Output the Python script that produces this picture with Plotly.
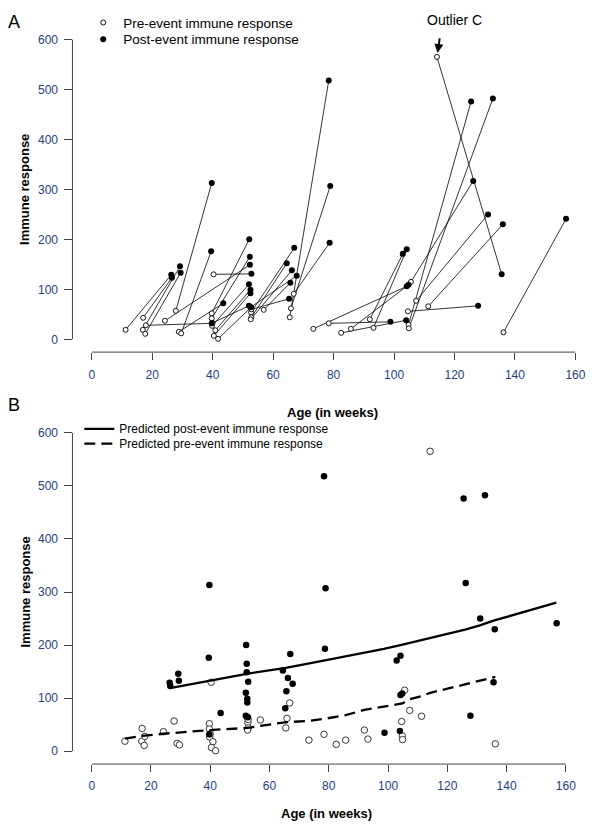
import plotly.graph_objects as go

# ---------------- data ----------------
# each index is one subject: pre-event sample -> post-event sample
pre_age = [11.2, 17.0, 16.9, 17.7, 17.9, 24.2, 27.8, 28.8, 29.6, 40.3,
           39.7, 39.7, 39.8, 40.9, 40.4, 41.8, 40.0, 52.7, 52.8, 52.6,
           56.9, 52.5, 52.8, 65.5, 65.9, 66.8, 73.3, 78.4, 82.5, 85.7,
           92.0, 93.2, 104.6, 105.6, 107.3, 111.3, 104.8, 104.9, 114.2, 136.2]
pre_val = [19, 43, 19, 11, 28, 37, 57, 15, 12, 130,
           52, 42, 27, 18, 7, 1, 33, 54, 44, 40,
           59, 64, 60, 44, 62, 91, 21, 32, 13, 21,
           40, 23, 56, 115, 77, 66, 29, 22, 565, 14]
post_age = [26.3, 26.5, 29.2, 29.4, 39.7, 52.3, 39.7, 43.5, 39.5, 52.8,
            52.1, 52.3, 52.0, 52.5, 52.5, 52.7, 52.0, 67.0, 64.5, 66.2,
            65.7, 67.8, 65.3, 78.4, 78.9, 78.7, 104.2, 98.8, 104.0, 104.8,
            102.9, 104.2, 127.8, 126.2, 131.1, 136.0, 125.5, 132.7, 135.6, 156.9]
post_val = [129, 123, 146, 133, 32, 149, 313, 72, 176, 131,
            200, 165, 110, 99, 92, 64, 67, 183, 152, 138,
            113, 127, 81, 518, 307, 193, 106, 35, 38, 109,
            171, 180, 67, 317, 250, 230, 476, 482, 130, 241]

pred_post_age = [26.4, 29.3, 39.6, 43.5, 52.3, 65.5, 67.5, 78.7, 98.6, 104.2, 126.0, 131.0, 135.6, 156.8]
pred_post_val = [119, 122, 132, 136, 146, 157, 159, 171, 193, 200, 229, 237, 246, 280]

pred_pre_age = [11.2, 17.0, 24.2, 28.8, 40.0, 52.7, 56.9, 65.9, 73.3, 78.4, 85.7, 92.0, 104.8, 107.3, 111.3, 114.2, 136.2]
pred_pre_val = [24, 29, 33, 35, 40, 44, 48, 55, 57, 61, 68, 78, 90, 98, 104, 110, 140]

x_ticks = [0, 20, 40, 60, 80, 100, 120, 140, 160]
y_ticks = [0, 100, 200, 300, 400, 500, 600]

legend_pre = "Pre-event immune response"
legend_post = "Post-event immune response"
legend_pred_post = "Predicted post-event immune response"
legend_pred_pre = "Predicted pre-event immune response"
x_title = "Age (in weeks)"
y_title = "Immune response"

# ---------------- helpers ----------------
# the page body margin is removed in post_script, so figure pixels == page pixels
W, H = 600, 833
FONT = "Liberation Sans, Arial, sans-serif"
TICKCOL = "#27407a"


def px(x):
    return x / W


def py(y):
    return 1 - y / H


# connecting segments pre -> post
seg_x, seg_y = [], []
for a0, v0, a1, v1 in zip(pre_age, pre_val, post_age, post_val):
    seg_x += [a0, a1, None]
    seg_y += [v0, v1, None]

fig = go.Figure()

# ---------------- panel A ----------------
fig.add_trace(go.Scatter(x=seg_x, y=seg_y, mode="lines", xaxis="x", yaxis="y",
                         line=dict(color="black", width=0.8), showlegend=False,
                         hoverinfo="skip", cliponaxis=False))
fig.add_trace(go.Scatter(x=pre_age, y=pre_val, mode="markers", xaxis="x", yaxis="y",
                         name=legend_pre, legend="legend",
                         marker=dict(symbol="circle", size=5, color="white",
                                     line=dict(color="black", width=0.9)),
                         cliponaxis=False))
fig.add_trace(go.Scatter(x=post_age, y=post_val, mode="markers", xaxis="x", yaxis="y",
                         name=legend_post, legend="legend2",
                         marker=dict(symbol="circle", size=6, color="black",
                                     line=dict(color="black", width=0)),
                         cliponaxis=False))

# ---------------- panel B ----------------
fig.add_trace(go.Scatter(x=pre_age, y=pre_val, mode="markers", xaxis="x2", yaxis="y2",
                         showlegend=False,
                         marker=dict(symbol="circle", size=6.5, color="white",
                                     line=dict(color="#222", width=0.9)),
                         cliponaxis=False))
fig.add_trace(go.Scatter(x=post_age, y=post_val, mode="markers", xaxis="x2", yaxis="y2",
                         showlegend=False,
                         marker=dict(symbol="circle", size=6.5, color="black",
                                     line=dict(color="black", width=0)),
                         cliponaxis=False))
fig.add_trace(go.Scatter(x=pred_post_age, y=pred_post_val, mode="lines", xaxis="x2", yaxis="y2",
                         name=legend_pred_post, legend="legend3",
                         line=dict(color="black", width=2.3), cliponaxis=False))
fig.add_trace(go.Scatter(x=pred_pre_age, y=pred_pre_val, mode="lines", xaxis="x2", yaxis="y2",
                         name=legend_pred_pre, legend="legend4",
                         line=dict(color="black", width=2.3, dash="11px,6px"), cliponaxis=False))

tickfont = dict(family=FONT, size=12, color=TICKCOL)
common_x = dict(range=[0, 160], tickvals=x_ticks, ticks="outside", ticklen=7,
                tickcolor="#444", tickwidth=1, showline=False, showgrid=False,
                zeroline=False, tickfont=tickfont, anchor="free", ticklabelstandoff=4)
common_y = dict(range=[0, 600], tickvals=y_ticks, ticks="outside", ticklen=8,
                tickcolor="#444", tickwidth=1, showline=False, showgrid=False,
                zeroline=False, tickfont=tickfont, anchor="free", ticklabelstandoff=4)

# page-pixel geometry
A_x0, A_x1 = 90.7, 585.1
A_y0, A_y1 = 338.0, 33.0
A_xaxis_y = 351.0
B_x0, B_x1 = 90.7, 575.3
B_y0, B_y1 = 757.0, 433.0
B_xaxis_y = 770.0
Y_axis_x = 71.0

layout = dict(
    width=W, height=H,
    margin=dict(l=0, r=0, t=0, b=0),
    paper_bgcolor="white", plot_bgcolor="white",
    font=dict(family=FONT, color="black"),
    hovermode=False,
    xaxis=dict(domain=[px(A_x0), px(A_x1)], position=py(A_xaxis_y), **common_x),
    yaxis=dict(domain=[py(A_y0), py(A_y1)], position=px(Y_axis_x), **common_y),
    xaxis2=dict(domain=[px(B_x0), px(B_x1)], position=py(B_xaxis_y), **common_x),
    yaxis2=dict(domain=[py(B_y0), py(B_y1)], position=px(Y_axis_x), **common_y),
)

leg_common = dict(bgcolor="rgba(0,0,0,0)", borderwidth=0, xanchor="left",
                  yanchor="middle", itemclick=False, itemdoubleclick=False)
layout["legend"] = dict(x=px(82), y=py(16), font=dict(family=FONT, size=13.5, color="black"), **leg_common)
layout["legend2"] = dict(x=px(82), y=py(33), font=dict(family=FONT, size=13.5, color="black"), **leg_common)
layout["legend3"] = dict(x=px(78), y=py(429), font=dict(family=FONT, size=12, color="black"), **leg_common)
layout["legend4"] = dict(x=px(78), y=py(444), font=dict(family=FONT, size=12, color="black"), **leg_common)

fig.update_layout(**layout)

# axis lines (R style: from first to last tick)
shapes = []
for xa, ya, yline in [("x", "y", A_xaxis_y), ("x2", "y2", B_xaxis_y)]:
    shapes.append(dict(type="line", xref=xa, yref="paper", x0=x_ticks[0], x1=x_ticks[-1],
                       y0=py(yline), y1=py(yline), line=dict(color="#444", width=1)))
    shapes.append(dict(type="line", xref="paper", yref=ya, x0=px(Y_axis_x), x1=px(Y_axis_x),
                       y0=y_ticks[0], y1=y_ticks[-1], line=dict(color="#444", width=1)))
fig.update_layout(shapes=shapes)

ann = []
title_font = dict(family=FONT, size=13, color="black")
ctr = dict(xref="paper", yref="paper", showarrow=False, xanchor="center", yanchor="middle")
ann.append(dict(text="<b>" + x_title + "</b>", x=px(337), y=py(412), font=title_font, **ctr))
ann.append(dict(text="<b>" + x_title + "</b>", x=px(331), y=py(820), font=title_font, **ctr))
ann.append(dict(text="<b>" + y_title + "</b>", x=px(22), y=py(185.5), font=title_font, textangle=-90, **ctr))
ann.append(dict(text="<b>" + y_title + "</b>", x=px(22), y=py(595), font=title_font, textangle=-90, **ctr))
ann.append(dict(text="A", x=px(11), y=py(15), font=dict(family=FONT, size=18, color="black"), **ctr))
ann.append(dict(text="B", x=px(11), y=py(405), font=dict(family=FONT, size=18, color="black"), **ctr))
# Outlier C label and arrow
out_i = pre_val.index(max(pre_val))
ann.append(dict(text="Outlier C", x=px(461), y=py(13), font=dict(family=FONT, size=14, color="black"), **ctr))
ann.append(dict(text="", x=pre_age[out_i], y=pre_val[out_i], xref="x", yref="y",
                showarrow=True, ax=3, ay=-20, arrowhead=2, arrowsize=0.9, arrowwidth=2,
                arrowcolor="black", standoff=4))
fig.update_layout(annotations=ann)

fig.write_html("out.html",
               config={"displayModeBar": False, "staticPlot": True},
               post_script="document.body.style.margin='0';"
                           "document.documentElement.style.overflow='hidden';")
